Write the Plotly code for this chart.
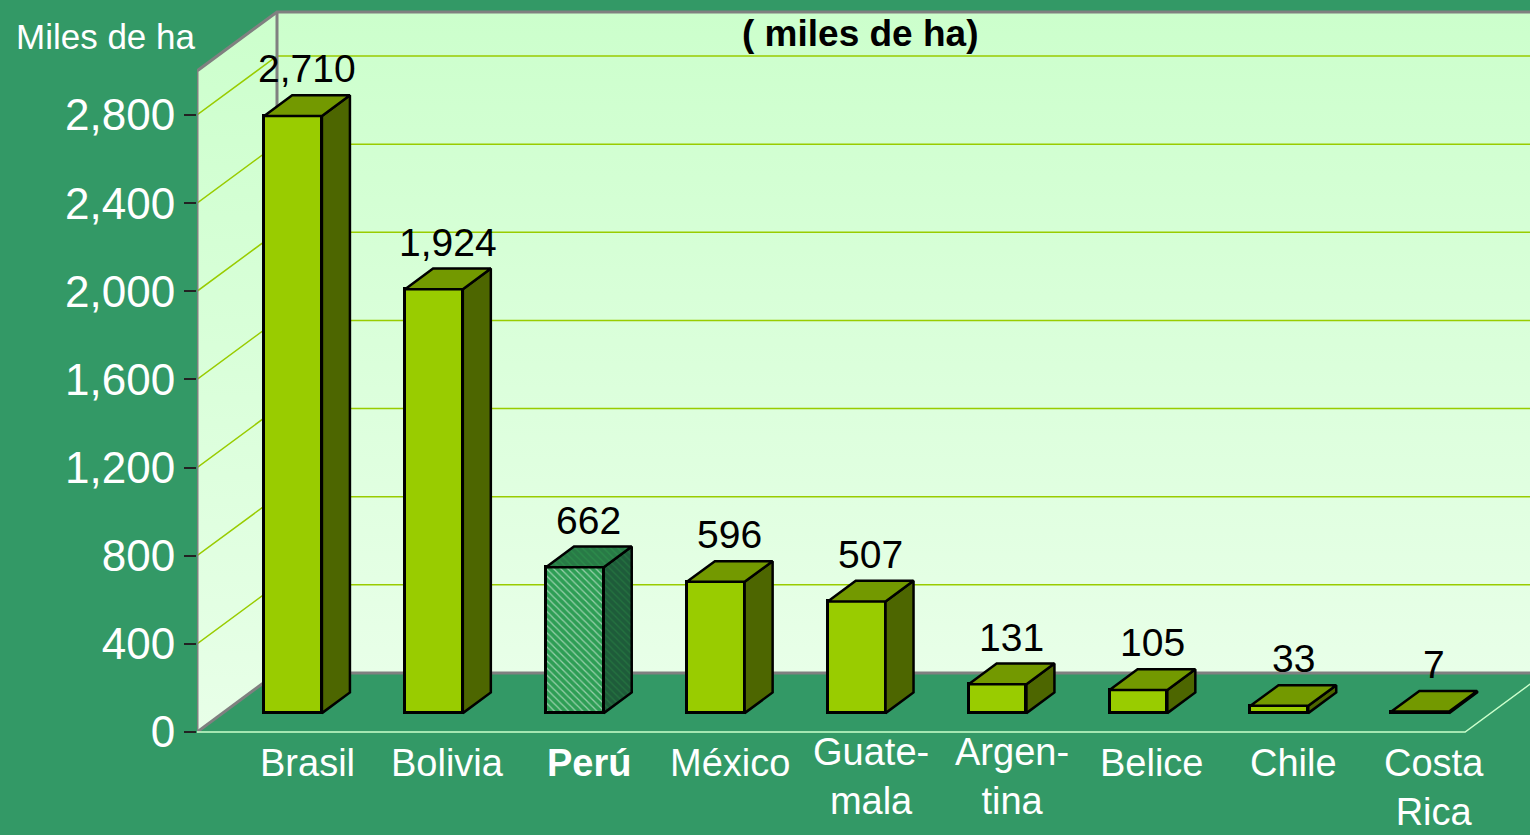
import plotly.graph_objects as go

# ---------------- data ----------------
categories = ["Brasil", "Bolivia", "Perú", "México", "Guatemala",
              "Argentina", "Belice", "Chile", "Costa Rica"]
category_labels = ["Brasil", "Bolivia", "<b>Perú</b>", "México", "Guate-<br>mala",
                   "Argen-<br>tina", "Belice", "Chile", "Costa<br>Rica"]
values = [2710, 1924, 662, 596, 507, 131, 105, 33, 7]
highlight = "Perú"
y_ticks = [0, 400, 800, 1200, 1600, 2000, 2400, 2800]
y_max = 3000
title_text = "( miles de ha)"
y_title = "Miles de ha"

# ---------------- layout geometry ----------------
W, H = 1530, 835
LEFT = 197                 # px, front-left corner of the 3D box
PX_PER_CAT = 140.9         # px per category on the front plane
PX_PER_UNIT = 0.22036      # px per data unit
ZERO_PX = 732              # px of y = 0 on front plane
PLOT_W = W - LEFT

x_range = [0, PLOT_W / PX_PER_CAT]
y_range = [-(H - ZERO_PX) / PX_PER_UNIT, ZERO_PX / PX_PER_UNIT]

DX = 80 / PX_PER_CAT       # depth offset (x units)
DY = 59 / PX_PER_UNIT      # depth offset (y units)
F0 = 0.32                  # depth fraction of bar front face
FD = 0.35                  # depth fraction of bar thickness
BW = 0.41                  # bar width (category units)
N = len(categories)
XMAX = x_range[1]

FONT = "Liberation Sans, Arial, sans-serif"
GRID = "#99CC00"
EDGE = "#808080"

fig = go.Figure()

# ---- walls (main axes, drawn first) ----
def grad():
    return dict(type="vertical", colorscale=[[0, "#E8FFE8"], [1, "#CCFFCC"]])

fig.add_trace(go.Scatter(
    x=[DX, XMAX, XMAX, DX, DX], y=[DY, DY, y_max + DY, y_max + DY, DY],
    fill="toself", fillgradient=grad(), mode="none", hoverinfo="skip",
    showlegend=False))
fig.add_trace(go.Scatter(
    x=[0, 0, DX, DX, 0], y=[0, y_max, y_max + DY, DY, 0],
    fill="toself", fillgradient=grad(), mode="none", hoverinfo="skip",
    showlegend=False))

# ---- gridlines ----
gx, gy = [], []
for t in y_ticks[1:]:
    gx += [0, DX, XMAX, None]
    gy += [t, t + DY, t + DY, None]
fig.add_trace(go.Scatter(x=gx, y=gy, mode="lines", line=dict(color=GRID, width=1.5),
                         hoverinfo="skip", showlegend=False))

# ---- box edges ----
ex = [0, 0, DX, XMAX, None, DX, DX, XMAX, None, 0, DX]
ey = [0, y_max, y_max + DY, y_max + DY, None, y_max + DY, DY, DY, None, 0, DY]
fig.add_trace(go.Scatter(x=ex, y=ey, mode="lines", line=dict(color=EDGE, width=3),
                         hoverinfo="skip", showlegend=False))
fig.add_trace(go.Scatter(x=[0, N, N + DX], y=[0, 0, DY], mode="lines",
                         line=dict(color="#CCFFCC", width=1.5),
                         hoverinfo="skip", showlegend=False))

# ---- bars (overlay axes, drawn above walls) ----
centers = [i + 0.5 + F0 * DX for i in range(N)]
base = F0 * DY
bdx, bdy = FD * DX, FD * DY
is_hl = [c == highlight for c in categories]

fig.add_trace(go.Bar(
    x=centers, y=values, base=base, width=BW, xaxis="x2", yaxis="y2",
    marker=dict(
        color=["#2E9E55" if h else "#99CC00" for h in is_hl],
        line=dict(color="black", width=3),
        pattern=dict(shape=["\\" if h else "" for h in is_hl],
                     fgcolor="#00F030", bgcolor="#2E9E55",
                     size=5, solidity=0.25)),
    hoverinfo="skip", showlegend=False))

for c, v, h in zip(centers, values, is_hl):
    xl, xr = c - BW / 2, c + BW / 2
    top = base + v
    side = dict(x=[xr, xr + bdx, xr + bdx, xr, xr],
                y=[base, base + bdy, top + bdy, top, base])
    cap = dict(x=[xl, xl + bdx, xr + bdx, xr, xl],
               y=[top, top + bdy, top + bdy, top, top])
    for poly, col, pcol in ((side, "#4D6600", ("#1E5C3A", "#2A8A45")),
                            (cap, "#739900", ("#287A46", "#2FA050"))):
        kw = dict(fillcolor=col)
        if h:
            kw = dict(fillcolor=pcol[0],
                      fillpattern=dict(shape="\\", bgcolor=pcol[0], fgcolor=pcol[1],
                                       size=5, solidity=0.25))
        fig.add_trace(go.Scatter(x=poly["x"], y=poly["y"], fill="toself", mode="lines",
                                 xaxis="x2", yaxis="y2",
                                 line=dict(color="black", width=2.5),
                                 hoverinfo="skip", showlegend=False, **kw))

# ---- annotations ----
ann = []
for c, v in zip(centers, values):
    ann.append(dict(x=c + bdx / 2, y=base + v + bdy, xref="x", yref="y",
                    text=f"{v:,}", showarrow=False, yanchor="bottom", yshift=3,
                    font=dict(family=FONT, size=39, color="black")))
for c, lab in zip(centers, category_labels):
    two_part = "-<br>" in lab
    ann.append(dict(x=c + bdx / 2, y=(-200 if two_part else -36), xref="x", yref="y",
                    text=lab, showarrow=False,
                    yanchor="middle" if two_part else "top",
                    font=dict(family=FONT, size=38, color="white")))
ann.append(dict(x=(14 - LEFT) / PLOT_W, y=1 - 37 / H, xref="paper", yref="paper",
                text=y_title, showarrow=False, xanchor="left", yanchor="middle",
                font=dict(family=FONT, size=35, color="white")))
ann.append(dict(x=(860 - LEFT) / PLOT_W, y=1 - 33 / H, xref="paper", yref="paper",
                text=f"<b>{title_text}</b>", showarrow=False,
                xanchor="center", yanchor="middle",
                font=dict(family=FONT, size=37, color="black")))

fig.update_layout(
    width=W, height=H,
    margin=dict(l=LEFT, r=0, t=0, b=0, pad=0),
    paper_bgcolor="#339966", plot_bgcolor="#339966",
    annotations=ann, bargap=0,
    xaxis=dict(range=x_range, visible=False, fixedrange=True),
    yaxis=dict(range=y_range, tickvals=y_ticks, tickformat=",d",
               showgrid=False, zeroline=False, showline=False,
               ticks="outside", ticklen=12, tickwidth=2, tickcolor="#222222",
               tickfont=dict(family=FONT, size=44, color="white"),
               automargin=False, fixedrange=True),
    xaxis2=dict(range=x_range, visible=False, overlaying="x", fixedrange=True),
    yaxis2=dict(range=y_range, visible=False, overlaying="y", fixedrange=True),
)

fig.write_html("out.html", config={"displayModeBar": False},
               post_script="document.body.style.margin='0';document.body.style.overflow='hidden';")
